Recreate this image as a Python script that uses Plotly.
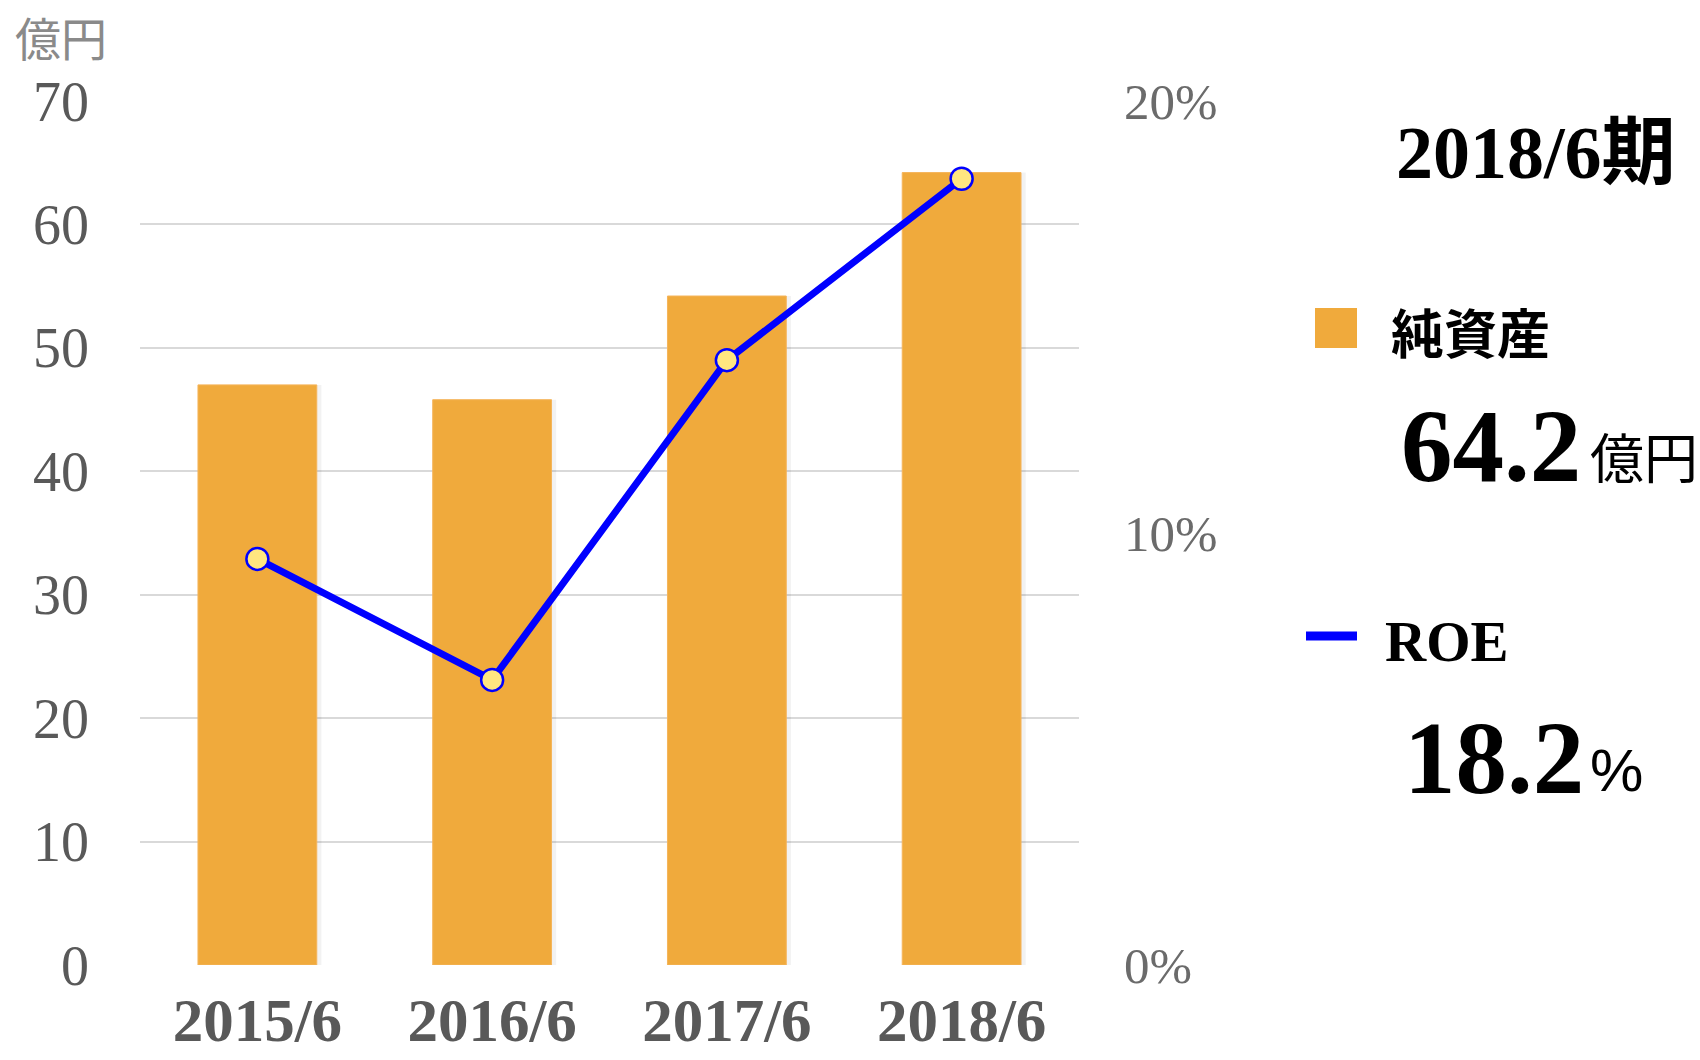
import plotly.graph_objects as go

periods = ["2015/6", "2016/6", "2017/6", "2018/6"]
net_assets = [47.0, 45.8, 54.2, 64.2]   # 億円
roe = [9.4, 6.6, 14.0, 18.2]            # %
left_ticks = [0, 10, 20, 30, 40, 50, 60, 70]
right_ticks = [0, 10, 20]
right_tick_text = ["0%", "10%", "20%"]

W, H = 1700, 1060
L, R, T, B = 140, 1079, 101, 965

def px2x(px):
    return (px - L) / (R - L)

def py2y(py):
    return (B - py) / (B - T)

ORANGE = "#F0AA3C"
BLUE = "#0000FF"
GRAY = "#595959"
SERIF = "Liberation Serif, DejaVu Serif, serif"
CJK = "Noto Sans CJK JP, sans-serif"

fig = go.Figure()

# subtle shadow behind bars
fig.add_trace(go.Bar(
    x=periods, y=net_assets, width=0.506, offset=-0.253 + 0.02,
    marker=dict(color="rgba(0,0,0,0.05)", line=dict(width=0)),
    hoverinfo="skip", showlegend=False,
))
fig.add_trace(go.Bar(
    x=periods, y=net_assets, width=0.506, offset=-0.253, name="純資産",
    marker=dict(color=ORANGE, line=dict(color="#F5B45A", width=1)),
    showlegend=False,
))
fig.add_trace(go.Scatter(
    x=periods, y=roe, yaxis="y2", mode="lines+markers", name="ROE",
    line=dict(color=BLUE, width=7),
    marker=dict(size=22, color="#FFE680", line=dict(color=BLUE, width=2.5)),
    showlegend=False,
))

annotations = [
    dict(text="億円", x=px2x(13), y=py2y(1), xanchor="left", yanchor="top",
         font=dict(family=CJK, size=46, color="#8a8a8a")),
    dict(text="<b>2018/6期</b>", x=px2x(1394), y=py2y(153), xanchor="left", yanchor="middle",
         font=dict(family="Liberation Serif, Noto Sans CJK JP", size=74, color="#000")),
    dict(text="<b>純資産</b>", x=px2x(1389), y=py2y(331), xanchor="left", yanchor="middle",
         font=dict(family=CJK, size=53, color="#000")),
    dict(text="<b>%.1f</b>" % net_assets[-1], x=px2x(1399), y=py2y(446), xanchor="left", yanchor="middle",
         font=dict(family=SERIF, size=103, color="#000")),
    dict(text="億円", x=px2x(1588), y=py2y(455), xanchor="left", yanchor="middle",
         font=dict(family=CJK, size=54, color="#000")),
    dict(text="<b>ROE</b>", x=px2x(1383), y=py2y(641), xanchor="left", yanchor="middle",
         font=dict(family=SERIF, size=57, color="#000")),
    dict(text="<b>%.1f</b>" % roe[-1], x=px2x(1402), y=py2y(758), xanchor="left", yanchor="middle",
         font=dict(family=SERIF, size=103, color="#000")),
    dict(text="%", x=px2x(1588), y=py2y(770), xanchor="left", yanchor="middle",
         font=dict(family="Liberation Sans, sans-serif", size=60, color="#000")),
]
for a in annotations:
    a.update(xref="paper", yref="paper", showarrow=False)

shapes = [
    dict(type="rect", xref="paper", yref="paper",
         x0=px2x(1315), x1=px2x(1357), y0=py2y(348), y1=py2y(308),
         fillcolor=ORANGE, line=dict(width=0)),
    dict(type="line", xref="paper", yref="paper",
         x0=px2x(1306), x1=px2x(1357), y0=py2y(636), y1=py2y(636),
         line=dict(color=BLUE, width=9)),
]

fig.update_layout(
    width=W, height=H,
    margin=dict(l=L, r=W - R, t=T, b=H - B, pad=0, autoexpand=False),
    paper_bgcolor="white", plot_bgcolor="white",
    barmode="overlay",
    annotations=annotations, shapes=shapes,
    xaxis=dict(
        type="category", range=[-0.5, 3.5], showgrid=False, zeroline=False,
        showline=False, ticks="", ticklabelstandoff=14, automargin=False,
        tickfont=dict(family=SERIF, size=61, color=GRAY, weight="bold"),
    ),
    yaxis=dict(
        range=[0, 70], tickvals=left_ticks, showgrid=True, gridcolor="#D9D9D9",
        gridwidth=1.5, zeroline=False, showline=False, ticks="",
        ticklabelstandoff=50, automargin=False,
        tickfont=dict(family=SERIF, size=56, color=GRAY),
    ),
    yaxis2=dict(
        range=[0, 20], overlaying="y", side="right", tickvals=right_ticks,
        ticktext=right_tick_text, showgrid=False, zeroline=False, showline=False,
        ticks="", ticklabelstandoff=44, automargin=False,
        tickfont=dict(family=SERIF, size=51, color="#6b6b6b"),
    ),
)

fig.write_html("out.html")
